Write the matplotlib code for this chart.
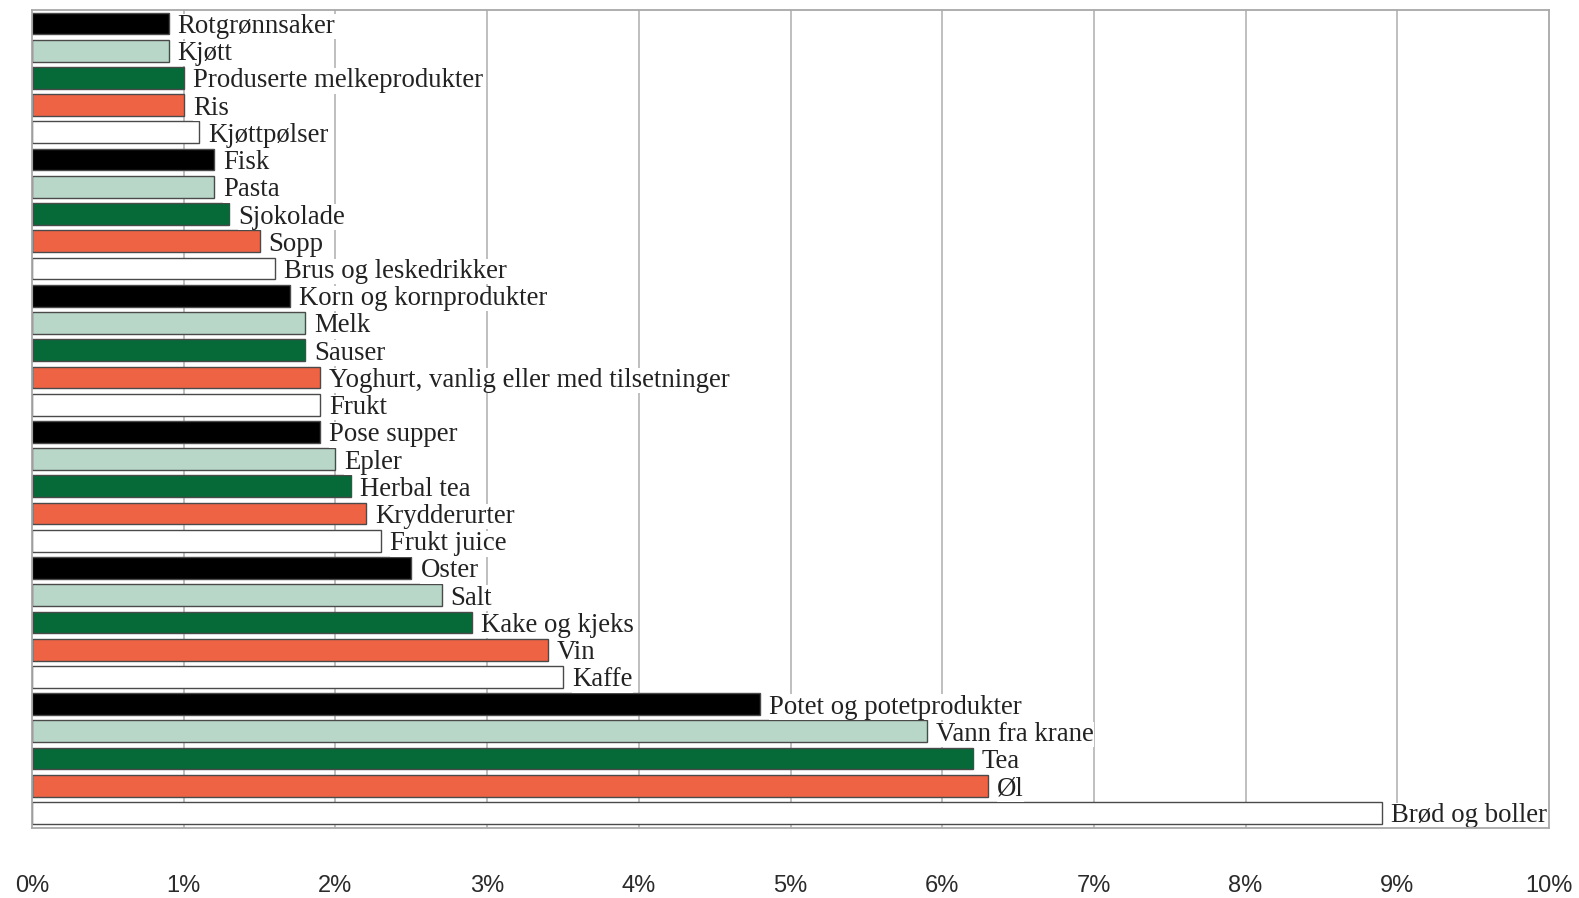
"""
Matvarer: andel per kategori, liggende stolper med etiketter ved stolpeenden.
"""
import numpy as np
import matplotlib
matplotlib.use("Agg")
import matplotlib.pyplot as plt

categories = [
    "Rotgrønnsaker", "Kjøtt", "Produserte melkeprodukter", "Ris", "Kjøttpølser",
    "Fisk", "Pasta", "Sjokolade", "Sopp", "Brus og leskedrikker",
    "Korn og kornprodukter", "Melk", "Sauser", "Yoghurt, vanlig eller med tilsetninger", "Frukt",
    "Pose supper", "Epler", "Herbal tea", "Krydderurter", "Frukt juice",
    "Oster", "Salt", "Kake og kjeks", "Vin", "Kaffe",
    "Potet og potetprodukter", "Vann fra krane", "Tea", "Øl", "Brød og boller",
]
values = [
    0.9, 0.9, 1.0, 1.0, 1.1,
    1.2, 1.2, 1.3, 1.5, 1.6,
    1.7, 1.8, 1.8, 1.9, 1.9,
    1.9, 2.0, 2.1, 2.2, 2.3,
    2.5, 2.7, 2.9, 3.4, 3.5,
    4.8, 5.9, 6.2, 6.3, 8.9,
]
tickValues = list(range(0, 11))
tickLabels = [f"{v}%" for v in tickValues]

PALETTE = ["#000000", "#b9d7c8", "#056a38", "#ef6345", "#ffffff"]

fig = plt.figure(figsize=(15.79, 8.98), dpi=100)
ax = fig.add_axes([0.0203, 0.078, 0.9607, 0.911])

n = len(categories)
ypos = np.arange(n)
colors = [PALETTE[i % len(PALETTE)] for i in range(n)]
ax.barh(ypos, values, height=0.8, color=colors, edgecolor="#4a4a4a", linewidth=1.0, zorder=2)

for y, v, name in zip(ypos, values, categories):
    ax.text(v + 0.06, y, name, va="center_baseline", ha="left", fontsize=19.3,
            family="Liberation Serif", color="#222222", zorder=4,
            bbox=dict(facecolor="white", edgecolor="none", pad=0.2))

ax.set_xlim(0, 10)
ax.set_ylim(n - 0.45, -0.5)
ax.set_xticks(tickValues)
ax.set_xticklabels(tickLabels, family="Liberation Sans", fontsize=17, color="#2b2b2b")
ax.set_yticks([])
ax.tick_params(axis="x", length=0, pad=34)
for x in tickValues[1:-1]:
    ax.axvline(x, color="#b4b4b4", linewidth=1.2, zorder=0)
for s in ax.spines.values():
    s.set_color("#a8a8a8")
    s.set_linewidth(1.3)
    s.set_zorder(5)

plt.savefig("out.png", dpi=100)
plt.close()
